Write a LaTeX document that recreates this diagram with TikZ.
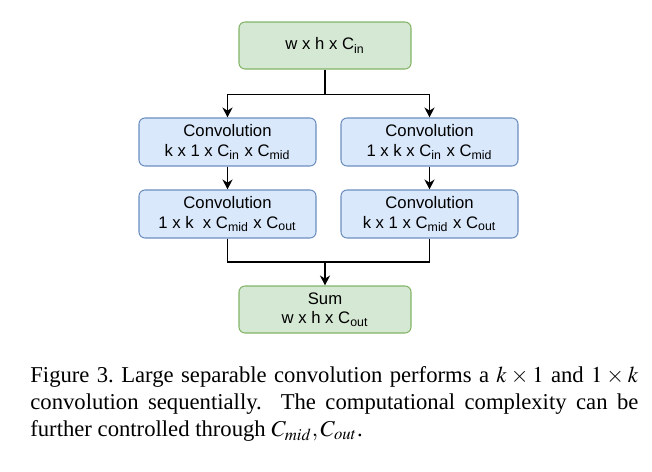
\documentclass[tikz,border=0pt]{standalone}
\usepackage{mathptmx}
\usepackage{fontspec}
\setmainfont{Liberation Serif}
\newfontfamily\boxfont{Liberation Sans}
\usepackage{tikz}
\usetikzlibrary{positioning,arrows.meta}

\definecolor{greenfill}{HTML}{D5E8D4}
\definecolor{greenline}{HTML}{82B366}
\definecolor{bluefill}{HTML}{DAE8FC}
\definecolor{blueline}{HTML}{6C8EBF}

\tikzset{
  greenbox/.style={draw=greenline, fill=greenfill, line width=0.6pt, rounded corners=1.2mm, minimum width=34.4mm, minimum height=9.4mm},
  convbox/.style={draw=blueline, fill=bluefill, line width=0.6pt, rounded corners=1.2mm, minimum width=35.4mm, minimum height=9.6mm},
}

\begin{document}
\begin{tikzpicture}[>={Stealth[length=2mm,width=2mm]}, every node/.style={font=\boxfont\fontsize{9.5}{11}\selectfont, align=center, inner sep=1pt}]
    \useasboundingbox (0,0) rectangle (13.04,-9.44);
    % boxes at explicit coordinates
    \node (input) at (6.5,-0.91) [greenbox] {w x h x C\textsubscript{in}};

    \node (convla) at (4.55,-2.84) [convbox] {Convolution\\k x 1 x C\textsubscript{in} x C\textsubscript{mid}};
    \node (convra) at (8.59,-2.84) [convbox] {Convolution\\1 x k x C\textsubscript{in} x C\textsubscript{mid}};

    \node (convlb) at (4.55,-4.28) [convbox] {Convolution\\1 x k\ \ x C\textsubscript{mid} x C\textsubscript{out}};
    \node (convrb) at (8.59,-4.28) [convbox] {Convolution\\k x 1 x C\textsubscript{mid} x C\textsubscript{out}};

    \node (sum) at (6.5,-6.19) [greenbox] {Sum\\w x h x C\textsubscript{out}};

    % split and merge
    \draw[line width=0.7pt] (input.south) -- ++(0,-0.5) coordinate (split);
    \draw[->, line width=0.7pt] (split) -| (convla.north);
    \draw[->, line width=0.7pt] (split) -| (convra.north);
    \draw[->, line width=0.7pt] (convla) -- (convlb);
    \draw[->, line width=0.7pt] (convra) -- (convrb);
    \draw[line width=0.7pt] (convlb.south) |- (sum.north |- 0,-5.24) coordinate (merge);
    \draw[line width=0.7pt] (convrb.south) |- (merge);
    \draw[->, line width=0.7pt] (merge) -- (sum.north);

    % caption
    \node (caption) at (0.6,-7.32) [anchor=north west, text width=12.16cm, align=justify, inner sep=0pt,
      font=\rmfamily\fontsize{12.9}{15.4}\selectfont]
      {\frenchspacing Figure 3. Large separable convolution performs a $k \times 1$ and $1 \times k$\linebreak
       convolution sequentially.\ \ The computational complexity can be\linebreak
       further controlled through $C_{mid}, C_{out}$.};
\end{tikzpicture}
\end{document}
